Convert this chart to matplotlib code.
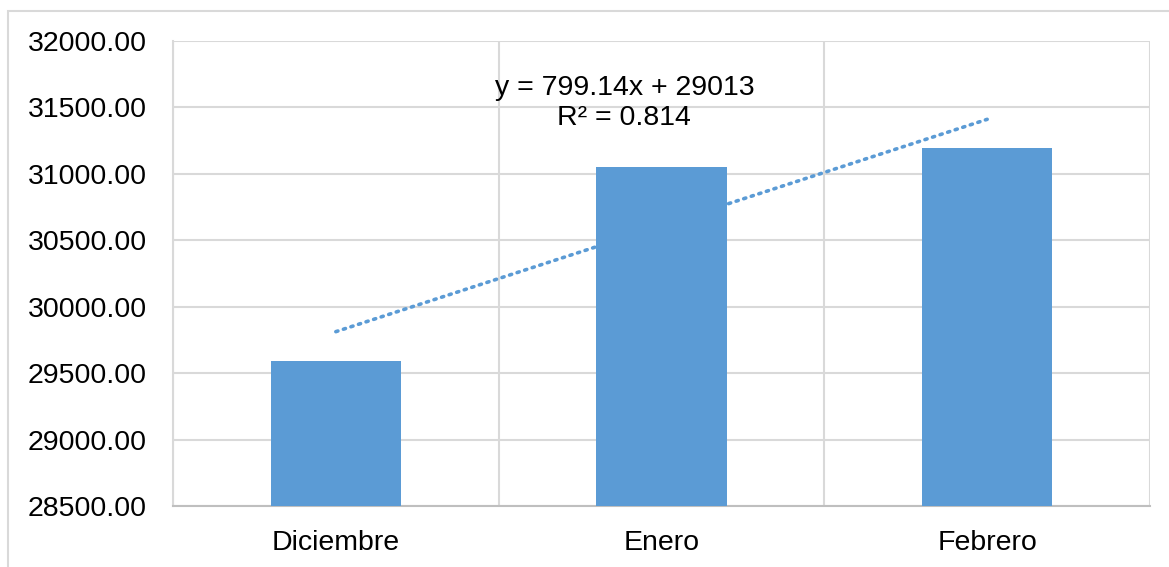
import matplotlib
matplotlib.use("Agg")
import matplotlib.pyplot as plt
import numpy as np
from matplotlib.patches import Rectangle

plt.rcParams["font.family"] = ["Liberation Sans", "DejaVu Sans"]

months = ["Diciembre", "Enero", "Febrero"]
values = [29591, 31052, 31192]
trend_slope = 799.14
trend_intercept = 29013
trend_label = "y = 799.14x + 29013\nR² = 0.814"
y_ticks = [28500, 29000, 29500, 30000, 30500, 31000, 31500, 32000]

BAR_COLOR = "#5b9bd5"
GRID_COLOR = "#d9d9d9"

W, H = 1169, 567
fig = plt.figure(figsize=(W / 100, H / 100), dpi=100)
ax = fig.add_axes([173 / W, 1 - 506 / H, (1150 - 173) / W, (506 - 41) / H])

x = np.arange(1, len(months) + 1)
ax.bar(x, values, width=0.4, color=BAR_COLOR, zorder=3)

xt = np.array([x[0], x[-1]])
ax.plot(xt, trend_slope * xt + trend_intercept, linestyle=(0, (0.6, 1.6)),
        dash_capstyle="round", color=BAR_COLOR, linewidth=2.6, zorder=4)

ax.text(1.886, 31530, trend_label, ha="center", va="center", fontsize=20.5,
        linespacing=1.2, color="#000000", zorder=5)

ax.set_xlim(0.5, 3.5)
ax.set_ylim(28500, 32000)
ax.set_yticks(y_ticks)
ax.set_yticklabels([f"{v:.2f}" for v in y_ticks])
ax.set_xticks(x)
ax.set_xticklabels(months)
ax.set_xticks([0.5, 1.5, 2.5, 3.5], minor=True)
ax.grid(axis="y", which="major", color=GRID_COLOR, linewidth=1.5, zorder=0)
ax.grid(axis="x", which="minor", color=GRID_COLOR, linewidth=1.5, zorder=0)
ax.grid(axis="x", which="major", visible=False)
ax.tick_params(axis="both", which="both", length=0, labelsize=20.5, colors="#000000")
ax.tick_params(axis="y", pad=19)
ax.tick_params(axis="x", pad=17)
for s in ax.spines.values():
    s.set_color(GRID_COLOR)
    s.set_linewidth(1.5)
ax.spines["top"].set_visible(False)
ax.spines["right"].set_visible(False)
ax.spines["bottom"].set_color("#bfbfbf")

fig.patches.append(Rectangle((7.5 / W, -0.1), 1.2, 1 - 10.5 / H + 0.1,
                             transform=fig.transFigure, fill=False,
                             edgecolor=GRID_COLOR, linewidth=1.5))

fig.savefig("out.png", dpi=100)
